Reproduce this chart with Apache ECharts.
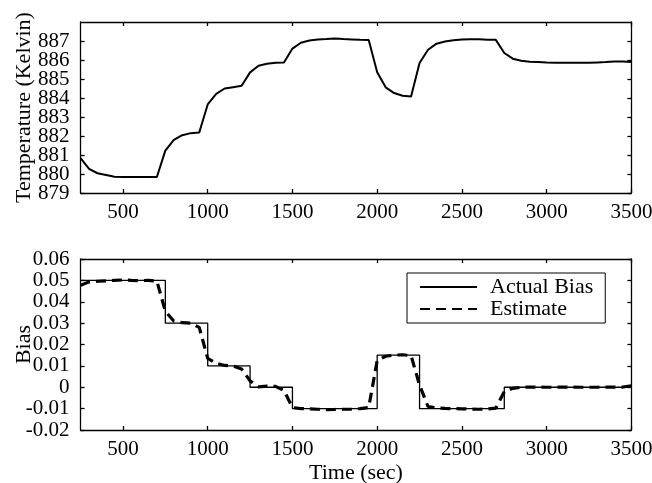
<!DOCTYPE html>
<html>
<head>
<meta charset="utf-8">
<script src="https://cdn.jsdelivr.net/npm/echarts@6/dist/echarts.min.js"></script>
<style>html,body{margin:0;padding:0;background:#fff}#c{width:652px;height:483px}</style>
</head>
<body>
<div id="c"></div>
<script>
// ---- data ----
const tempTimes = [250,300,350,400,450,500,550,600,650,700,750,800,850,900,950,1000,1050,1100,1150,1200,1250,1300,1350,1400,1450,1500,1550,1600,1650,1700,1750,1800,1850,1900,1950,2000,2050,2100,2150,2200,2250,2300,2350,2400,2450,2500,2550,2600,2650,2700,2750,2800,2850,2900,2950,3000,3050,3100,3150,3200,3250,3300,3350,3400,3450,3500];
const tempValues = [880.83,880.27,880.04,879.95,879.85,879.84,879.84,879.84,879.84,879.84,881.23,881.80,882.04,882.15,882.18,883.66,884.22,884.50,884.57,884.64,885.35,885.70,885.80,885.85,885.87,886.60,886.91,887.03,887.08,887.10,887.13,887.10,887.08,887.06,887.05,885.35,884.56,884.26,884.12,884.08,885.84,886.54,886.86,886.97,887.04,887.08,887.09,887.09,887.07,887.06,886.37,886.07,885.96,885.91,885.89,885.87,885.86,885.86,885.85,885.85,885.85,885.87,885.89,885.92,885.92,885.90];

const biasStepTimes = [250,750,1000,1250,1500,2000,2250,2750,3500];
const biasStepValues = [0.05,0.03,0.01,0.0,-0.01,0.015,-0.01,0.0,0.0];

const estTimes = tempTimes;
const estValues = [0.0477,0.0493,0.0496,0.0498,0.0500,0.0502,0.0500,0.0499,0.0500,0.0497,0.0355,0.0310,0.0302,0.0300,0.0280,0.0135,0.0112,0.0102,0.0100,0.0085,0.0030,0.0002,0.0005,0.0004,-0.0015,-0.0095,-0.0100,-0.0101,-0.0103,-0.0105,-0.0104,-0.0103,-0.0102,-0.0100,-0.0095,0.0125,0.0145,0.0150,0.0152,0.0148,0.0010,-0.0090,-0.0097,-0.0099,-0.0100,-0.0101,-0.0102,-0.0103,-0.0102,-0.0098,-0.0020,-0.0005,0.0000,0.0001,0.0001,0.0000,0.0000,0.0001,0.0001,0.0000,0.0000,0.0000,0.0001,0.0001,0.0001,0.0007];

const xTicks = [500,1000,1500,2000,2500,3000,3500];
const tempTicks = [879,880,881,882,883,884,885,886,887];
const biasTicks = [-0.02,-0.01,0,0.01,0.02,0.03,0.04,0.05,0.06];

const seriesNames = ['Actual Bias','Estimate'];
const axisTitles = {temp:'Temperature (Kelvin)', bias:'Bias', time:'Time (sec)'};

// ---- chart ----
const FONT = 'Liberation Serif';
const FS = 21;
const NFS = 22;
const lineSty = {color:'#000', width:1.3};
function xAx(grid, pos, showLabels, name){
  return {
    type:'value', gridIndex:grid, position:pos, min:250, max:3500,
    axisLine:{show:true, onZero:false, lineStyle:lineSty},
    axisTick:{show:true, inside:true, length:4, customValues:xTicks, lineStyle:lineSty},
    axisLabel:{show:showLabels, customValues:xTicks, margin:9, color:'#000', fontFamily:FONT, fontSize:FS,
      interval:0, showMinLabel:true, showMaxLabel:true, hideOverlap:false, formatter:v=>String(v)},
    splitLine:{show:false},
    name:name||'', nameLocation:'middle', nameGap:32, nameMoveOverlap:false,
    nameTextStyle:{color:'#000', fontFamily:FONT, fontSize:NFS}
  };
}
function yAx(grid, pos, min, max, ticks, labelVals, name, fmt, gap, bare){
  return {
    type:'value', gridIndex:grid, position:pos, min:min, max:max,
    axisLine:{show:!bare, onZero:false, lineStyle:lineSty},
    axisTick:{show:!bare, inside:true, length:4, customValues:ticks, lineStyle:lineSty},
    axisLabel:{show:!!labelVals, customValues:labelVals||ticks, margin:11, color:'#000', fontFamily:FONT, fontSize:FS,
      interval:0, showMinLabel:true, showMaxLabel:true, hideOverlap:false, formatter:fmt},
    splitLine:{show:false},
    name:name||'', nameLocation:'middle', nameGap:gap||45, nameMoveOverlap:false,
    nameTextStyle:{color:'#000', fontFamily:FONT, fontSize:NFS}
  };
}
const biasFmt = v => (Math.abs(v) < 1e-9 ? '0' : v.toFixed(2));
const tempFmt = v => String(Math.round(v));
// split temperature labels over two overlaid axes so none is auto-hidden
const tempLabelsOdd = tempTicks.filter((v,i)=>i%2===0);
const tempLabelsEven = tempTicks.filter((v,i)=>i%2===1);

const chart = echarts.init(document.getElementById('c'), null, {renderer:'canvas'});
chart.setOption({
  animation:false,
  backgroundColor:'#fff',
  grid:[
    {left:80.6, right:20.6, top:22, height:171, outerBoundsMode:'none', containLabel:false},
    {left:80.6, right:20.6, top:259, height:171, outerBoundsMode:'none', containLabel:false}
  ],
  xAxis:[
    xAx(0,'bottom',true),
    xAx(0,'top',false),
    xAx(1,'bottom',true,axisTitles.time),
    xAx(1,'top',false)
  ],
  yAxis:[
    yAx(0,'left',879,888,tempTicks,tempLabelsOdd,axisTitles.temp,tempFmt,45),
    yAx(0,'right',879,888,tempTicks,null),
    yAx(0,'left',879,888,tempTicks,tempLabelsEven,'',tempFmt,45,true),
    yAx(1,'left',-0.02,0.06,biasTicks,biasTicks,axisTitles.bias,biasFmt,45),
    yAx(1,'right',-0.02,0.06,biasTicks,null)
  ],
  legend:{
    data:seriesNames, orient:'vertical', left:407, top:273,
    backgroundColor:'#fff', borderColor:'#000', borderWidth:1,
    padding:[3,12,3,12], itemGap:0, itemWidth:57, itemHeight:14,
    itemStyle:{color:'rgba(0,0,0,0)', borderWidth:0, opacity:0},
    textStyle:{color:'#000', fontFamily:FONT, fontSize:NFS, lineHeight:20, padding:[0,0,0,8]}
  },
  series:[
    {type:'line', name:'Temperature', xAxisIndex:0, yAxisIndex:0, symbol:'none',
     lineStyle:{color:'#000', width:2}, data:tempTimes.map((t,i)=>[t,tempValues[i]])},
    {type:'line', name:seriesNames[0], xAxisIndex:2, yAxisIndex:3, symbol:'none', step:'end',
     lineStyle:{color:'#000', width:1.3}, itemStyle:{color:'#000'},
     data:biasStepTimes.map((t,i)=>[t,biasStepValues[i]])},
    {type:'line', name:seriesNames[1], xAxisIndex:2, yAxisIndex:3, symbol:'none',
     lineStyle:{color:'#000', width:3.2, type:[10,6]}, itemStyle:{color:'#000'},
     data:estTimes.map((t,i)=>[t,estValues[i]])}
  ]
});
</script>
</body>
</html>
